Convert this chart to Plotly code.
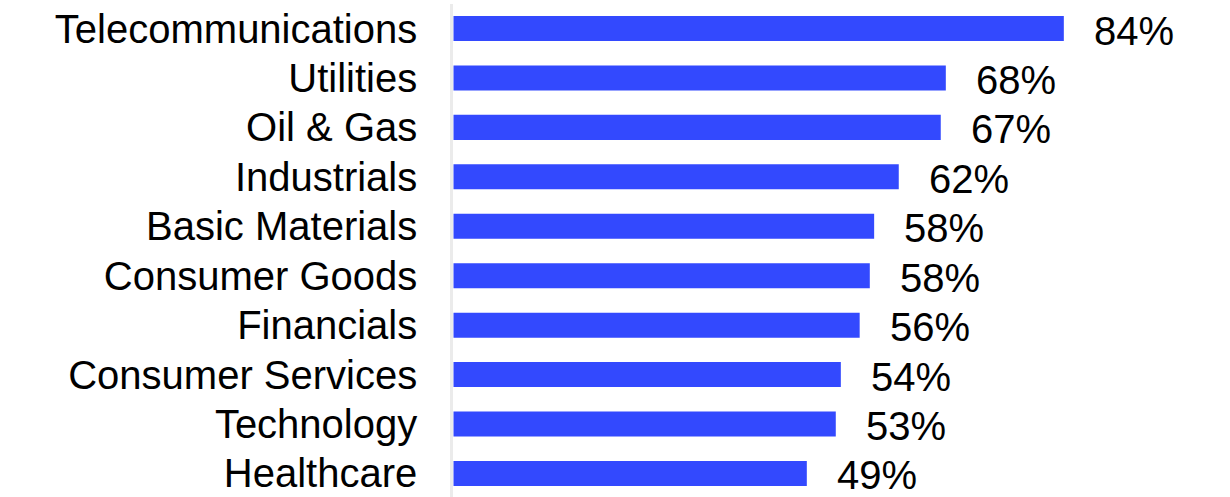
import plotly.graph_objects as go

categories = ["Telecommunications", "Utilities", "Oil & Gas", "Industrials",
              "Basic Materials", "Consumer Goods", "Financials",
              "Consumer Services", "Technology", "Healthcare"]
values = [84.3, 68.0, 67.3, 61.5, 58.1, 57.5, 56.1, 53.5, 52.8, 48.8]
labels = ["84%", "68%", "67%", "62%", "58%", "58%", "56%", "54%", "53%", "49%"]

FONT = "Arial, Liberation Sans, sans-serif"

fig = go.Figure()
fig.add_trace(go.Bar(
    x=values, y=categories, orientation="h",
    marker=dict(color="#3349fe", line=dict(width=0)),
    hoverinfo="skip",
))

for v, c, t in zip(values, categories, labels):
    fig.add_annotation(x=v, y=c, text=t, showarrow=False, xanchor="left",
                       yanchor="middle", xshift=28, yshift=-2,
                       font=dict(family=FONT, size=40, color="black"))

fig.update_layout(
    width=1230, height=497,
    margin=dict(l=453, r=10, t=4, b=0),
    paper_bgcolor="white", plot_bgcolor="white",
    bargap=0.494,
    showlegend=False,
    font=dict(family=FONT, color="black"),
)
fig.update_xaxes(range=[-0.07, 105.87], visible=False, showgrid=False,
                 zeroline=False)
fig.update_yaxes(range=[9.476, -0.4955], showgrid=False, zeroline=False,
                 showline=True, linecolor="#ebebeb", linewidth=2.5,
                 ticks="", ticklabelstandoff=25,
                 tickfont=dict(family=FONT, size=40, color="black"))

fig.write_html("out.html", config={"displayModeBar": False},
               post_script="document.body.style.margin='0';")
